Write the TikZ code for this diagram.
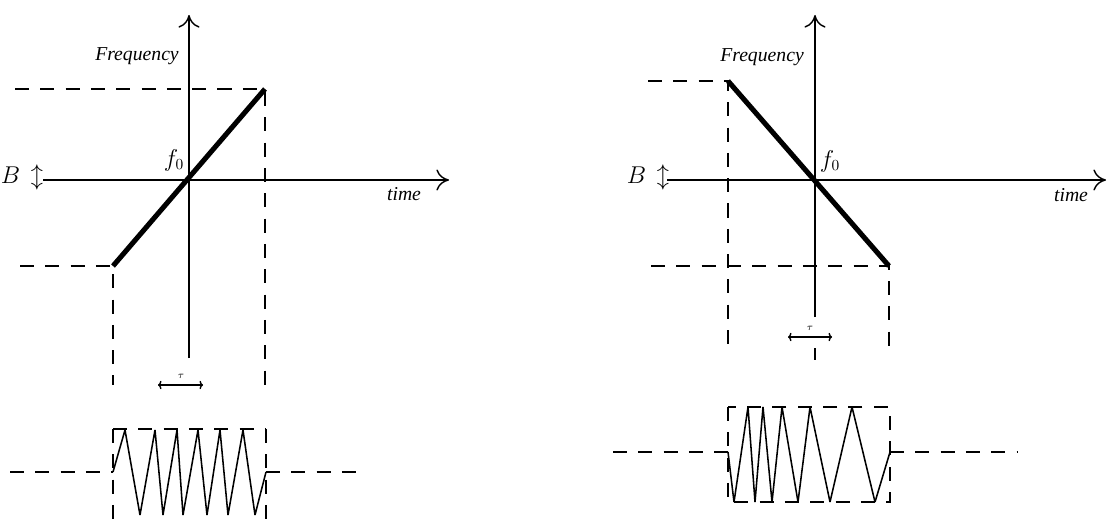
\documentclass[tikz,border=0pt]{standalone}
\usepackage{fontspec}
\setmainfont{Liberation Serif}
\usetikzlibrary{arrows.meta}

\begin{document}
\begin{tikzpicture}[
    x=0.025cm, y=-0.025cm,
    ax/.style={line width=1.1pt, -{Computer Modern Rightarrow[length=9pt, width=15pt, line width=1pt]}},
    sweep/.style={line width=3.6pt},
    guide/.style={line width=1.1pt, dash pattern=on 10pt off 8pt},
    wave/.style={line width=1.1pt, line join=bevel},
    span/.style={line width=1pt, {Computer Modern Rightarrow[length=2.5pt, width=6pt]}-{Computer Modern Rightarrow[length=2.5pt, width=6pt]}},
    lbl/.style={font=\fontsize{14}{16}\selectfont\itshape, inner sep=0pt},
    tlbl/.style={font=\fontsize{7}{8}\selectfont, inner sep=0pt}
]
\useasboundingbox (0,0) rectangle (1108,518);
\clip (0,0) rectangle (1108,518);

% ---- left: up-chirp ----
\coordinate (lO) at (189,180);
\coordinate (lTop) at (189,15);
\coordinate (lBot) at (189,358);
\coordinate (lW) at (43,180);
\coordinate (lE) at (449,180);
\coordinate (lHi) at (265,89);
\coordinate (lLo) at (113,266);

\draw[ax] (lBot) -- (lTop);
\draw[ax] (lW) -- (lE);
\draw[guide] (15,89) -- (lHi) -- (265,385);
\draw[guide] (20,266) -- (lLo) -- (113,385);
\draw[sweep] (lLo) -- (lHi);

\node[lbl] (lfreq) at (137,56) {Frequency};
\node[lbl, font=\fontsize{16}{18}\selectfont] (lf0) at (174,160) {$f_0$};
\node[lbl, font=\fontsize{16}{18}\selectfont] (lB) at (22,177) {$B\,\updownarrow$};
\node[lbl] (ltime) at (404,194) {time};

\coordinate (lTauL) at (158,385);
\coordinate (lTauR) at (203,385);
\draw[span] (lTauL) -- (lTauR);
\node[tlbl] (ltau) at (181,376) {$\tau$};

% pulse
\draw[guide] (10,472) -- (113,472);
\draw[guide] (266,472) -- (366,472);
\draw[guide] (113,429) -- (266,429);
\draw[guide] (113,429) -- (113,520);
\draw[guide] (266,429) -- (266,520);
\draw[wave] (113,472) -- (125,430) -- (140,515) -- (155,430) -- (163,515)
    -- (177,430) -- (183,515) -- (198,430) -- (207,515) -- (220,430)
    -- (228,515) -- (243,430) -- (255,515) -- (266,472);

% ---- right: down-chirp ----
\coordinate (rO) at (815,180);
\coordinate (rTop) at (815,15);
\coordinate (rBot) at (815,317);
\coordinate (rW) at (667,180);
\coordinate (rE) at (1106,180);
\coordinate (rHi) at (728,81);
\coordinate (rLo) at (889,266);

\draw[ax] (rBot) -- (rTop);
\draw[line width=1.1pt] (815,348) -- (815,360);
\draw[ax] (rW) -- (rE);
\draw[guide] (648,81) -- (rHi) -- (728,353);
\draw[guide] (651,266) -- (rLo) -- (889,353);
\draw[sweep] (rHi) -- (rLo);

\node[lbl] (rfreq) at (762,57) {Frequency};
\node[lbl, font=\fontsize{16}{18}\selectfont] (rf0) at (830,161) {$f_0$};
\node[lbl, font=\fontsize{16}{18}\selectfont] (rB) at (648,177) {$B\,\updownarrow$};
\node[lbl] (rtime) at (1071,195) {time};

\coordinate (rTauL) at (788,337);
\coordinate (rTauR) at (832,337);
\draw[span] (rTauL) -- (rTauR);
\node[tlbl] (rtau) at (810,328) {$\tau$};

% pulse
\draw[guide] (613,452) -- (728,452);
\draw[guide] (890,452) -- (1018,452);
\draw[guide] (728,407) rectangle (890,502);
\draw[wave] (728,452) -- (734,502) -- (748,407) -- (755,502) -- (763,407)
    -- (772,502) -- (782,407) -- (798,502) -- (810,407) -- (830,502)
    -- (852,407) -- (875,502) -- (890,452);
\end{tikzpicture}
\end{document}
